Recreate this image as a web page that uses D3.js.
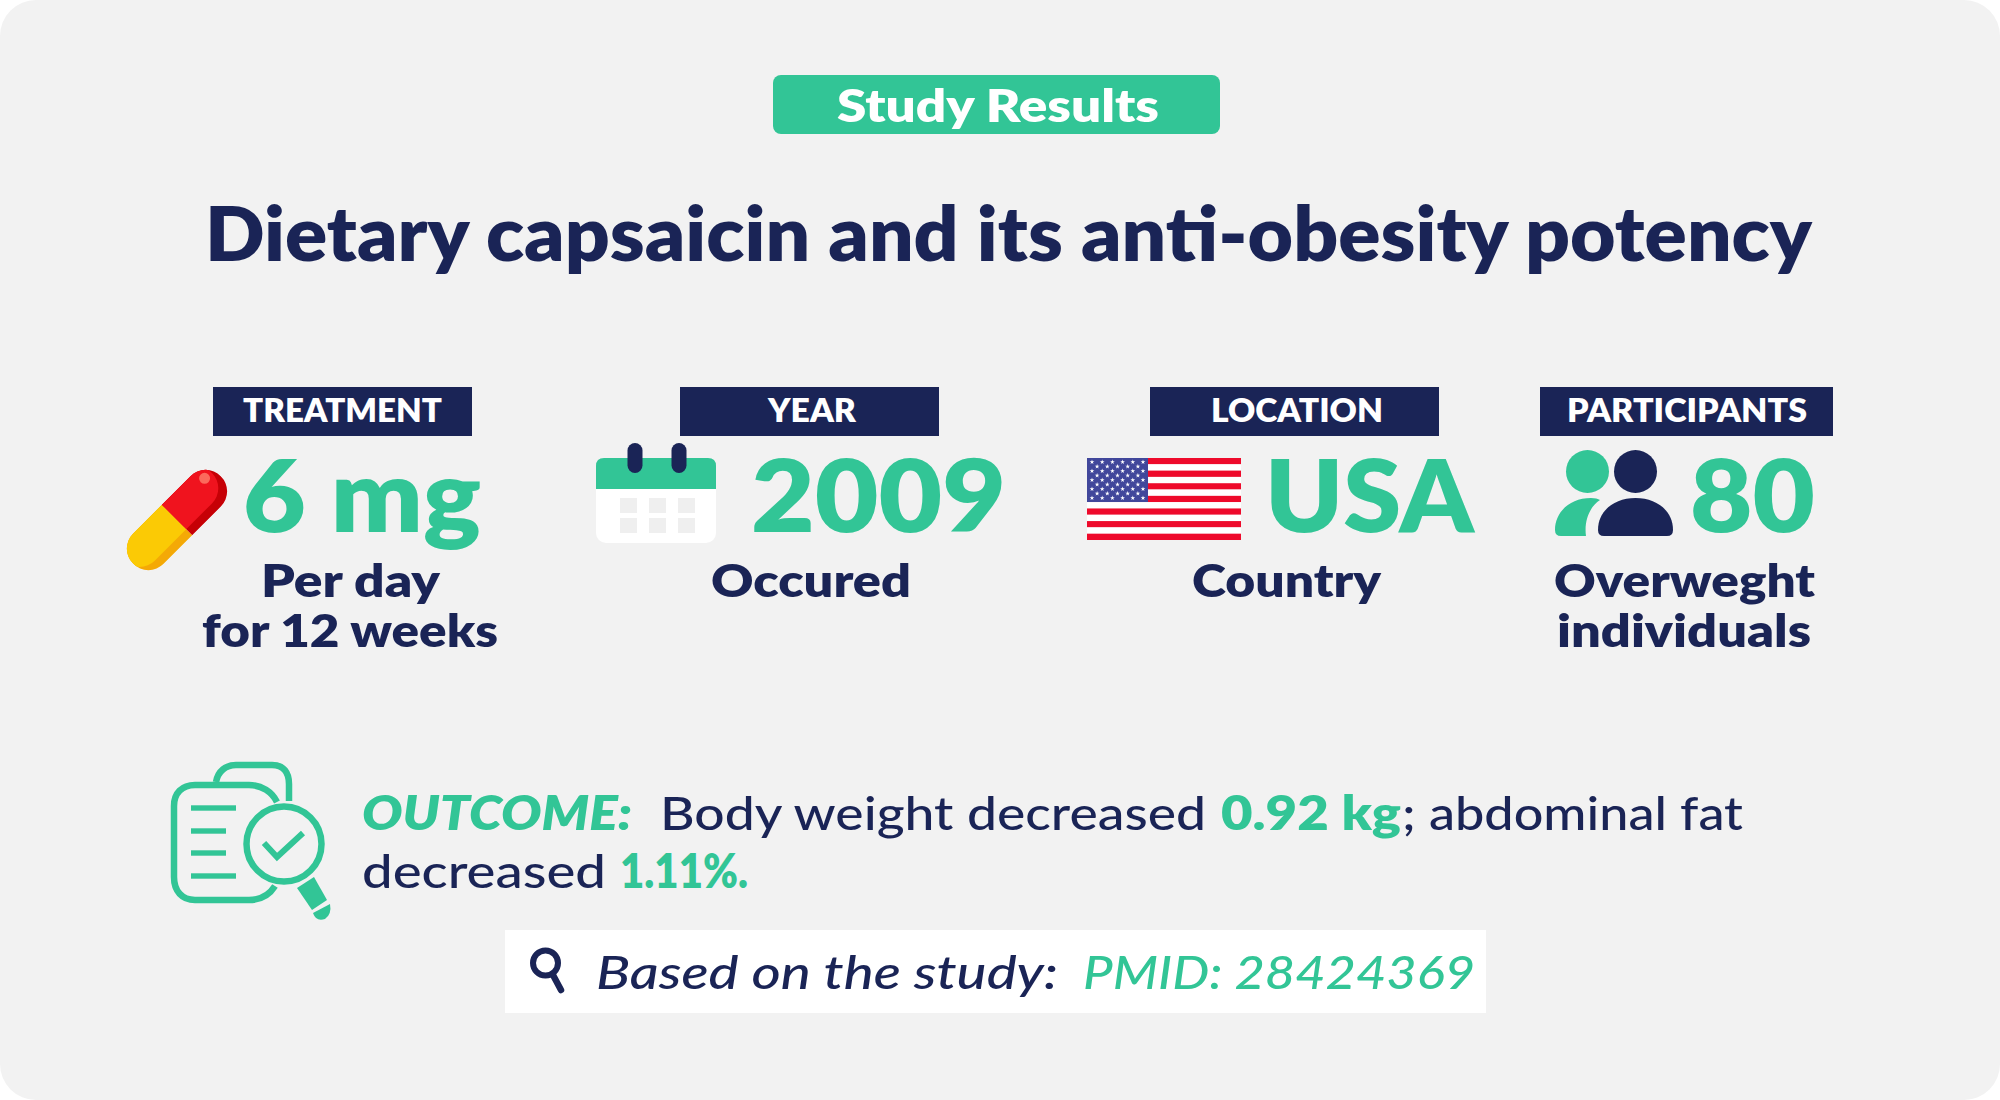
<!DOCTYPE html>
<html lang="en">
<head>
  <meta charset="UTF-8">
  <title>Study Results</title>
  <script src="https://d3js.org/d3.v7.min.js"></script>
  <style>
    body { margin: 0; background: #fff; }
    text { font-family: Lato, "Noto Sans", sans-serif; }
  </style>
</head>
<body>
  <svg id="card" width="2000" height="1100" viewBox="0 0 2000 1100"></svg>
  <script>
    // content
    const badgeText = "Study Results";
    const titleText = "Dietary capsaicin and its anti-obesity potency";
    const statLabels = ["TREATMENT", "YEAR", "LOCATION", "PARTICIPANTS"];
    const statValues = ["6 mg", "2009", "USA", "80"];
    const statNotes = [["Per day", "for 12 weeks"], ["Occured"], ["Country"], ["Overweght", "individuals"]];
    const outcomeHead = "OUTCOME:";
    const outcomeText = ["Body weight decreased", "0.92 kg", "; abdominal fat", "decreased", "1.11%."];
    const sourceText = ["Based on the study:", "PMID: 28424369"];
    const stripeIds = d3.range(13);
    const starRows = [6, 5, 6, 5, 6, 5, 6, 5, 6];

    const navy = "#1a2456", green = "#32c596", grey = "#f2f2f2";

    const svg = d3.select("#card");
    svg.append("rect").attr("width", 2000).attr("height", 1100).attr("rx", 36).attr("fill", grey);

    // text squeezed between two x positions
    function put(str, x0, x1, y, size, weight, color, italic) {
      return svg.append("text")
        .attr("x", x0).attr("y", y)
        .attr("font-size", size).attr("font-weight", weight)
        .attr("font-style", italic ? "italic" : "normal")
        .attr("fill", color)
        .attr("textLength", x1 - x0)
        .attr("lengthAdjust", "spacingAndGlyphs")
        .text(str);
    }

    // header
    svg.append("rect").attr("x", 773).attr("y", 75).attr("width", 447).attr("height", 59).attr("rx", 8).attr("fill", green);
    put(badgeText, 837, 1159, 122, 46, 800, "#fff");
    put(titleText, 205, 1812, 261, 75, 800, navy);

    // stat columns
    const labelBoxes = [[213, 472], [680, 939], [1150, 1439], [1540, 1833]];
    const labelSpans = [[243, 442], [768, 856], [1211, 1383], [1567, 1807]];
    const valueSpans = [[243, 481], [751, 1006], [1265, 1474], [1690, 1815]];
    const noteSpans = [[[261, 440], [202, 498]], [[711, 911]], [[1192, 1381]], [[1554, 1815], [1557, 1811]]];

    statLabels.forEach((label, i) => {
      const [a, b] = labelBoxes[i];
      svg.append("rect").attr("x", a).attr("y", 387).attr("width", b - a).attr("height", 49).attr("fill", navy);
      put(label, labelSpans[i][0], labelSpans[i][1], 422, 32, 800, "#fff");
      put(statValues[i], valueSpans[i][0], valueSpans[i][1], 532, 100, 800, green);
      statNotes[i].forEach((line, j) => {
        put(line, noteSpans[i][j][0], noteSpans[i][j][1], 597 + j * 50, 46, 800, navy);
      });
    });

    // pill icon
    const pill = svg.append("g").attr("transform", "translate(177,520) rotate(-45)");
    const defs = svg.append("defs");
    defs.append("clipPath").attr("id", "pillOuter").append("rect")
      .attr("x", -62).attr("y", -21.5).attr("width", 124).attr("height", 43).attr("rx", 21.5);
    defs.append("clipPath").attr("id", "pillInner").append("rect")
      .attr("x", -66).attr("y", -30).attr("width", 124).attr("height", 43).attr("rx", 21.5);
    const pillBase = pill.append("g").attr("clip-path", "url(#pillOuter)");
    pillBase.append("rect").attr("x", -62).attr("y", -22).attr("width", 62).attr("height", 44).attr("fill", "#f4a906");
    pillBase.append("rect").attr("x", 0).attr("y", -22).attr("width", 62).attr("height", 44).attr("fill", "#c60006");
    const pillTop = pillBase.append("g").attr("clip-path", "url(#pillInner)");
    pillTop.append("rect").attr("x", -62).attr("y", -22).attr("width", 62).attr("height", 44).attr("fill", "#fbca05");
    pillTop.append("rect").attr("x", 0).attr("y", -22).attr("width", 62).attr("height", 44).attr("fill", "#f0131e");
    pill.append("circle").attr("cx", 49).attr("cy", -10).attr("r", 5.5).attr("fill", "#fb6a5c");

    // calendar icon
    svg.append("rect").attr("x", 596).attr("y", 458).attr("width", 120).attr("height", 85).attr("rx", 10).attr("fill", "#fff");
    svg.append("path").attr("fill", green)
      .attr("d", "M596 489 V466 Q596 458 604 458 H708 Q716 458 716 466 V489 Z");
    [635, 679].forEach(x => {
      svg.append("rect").attr("x", x - 7.5).attr("y", 443).attr("width", 15).attr("height", 30).attr("rx", 7.5).attr("fill", navy);
    });
    [620, 649, 678].forEach(x => [498, 518].forEach(y => {
      svg.append("rect").attr("x", x).attr("y", y).attr("width", 17).attr("height", 15).attr("fill", "#efefef");
    }));

    // flag
    const stripeY = d3.scaleBand().domain(stripeIds).range([458, 540]);
    svg.selectAll(".stripe").data(stripeIds).join("rect")
      .attr("class", "stripe")
      .attr("x", 1087).attr("width", 154)
      .attr("y", d => stripeY(d)).attr("height", stripeY.bandwidth())
      .attr("fill", d => d % 2 ? "#fff" : "#ee0a2b");
    svg.append("rect").attr("x", 1087).attr("y", 458).attr("width", 61).attr("height", 44).attr("fill", "#41479b");
    const starY = d3.scaleLinear().domain([0, 8]).range([462, 498]);
    const starX = d3.scaleLinear().domain([0, 10]).range([1092, 1143]);
    const star = d3.symbol().type(d3.symbolStar).size(7);
    starRows.forEach((n, r) => {
      d3.range(n).forEach(k => {
        svg.append("path").attr("d", star()).attr("fill", "#fff")
          .attr("transform", `translate(${starX(k * 2 + (n === 5 ? 1 : 0))},${starY(r)})`);
      });
    });

    // people icon
    svg.append("circle").attr("cx", 1587.5).attr("cy", 471.5).attr("r", 21.5).attr("fill", green);
    svg.append("circle").attr("cx", 1635.5).attr("cy", 471.5).attr("r", 21.5).attr("fill", navy);
    svg.append("path").attr("fill", navy)
      .attr("d", "M1598 530 C1598 511 1614 498 1635.5 498 C1657 498 1673 511 1673 530 Q1673 536 1667 536 H1604 Q1598 536 1598 530 Z");
    svg.append("path").attr("fill", green)
      .attr("d", "M1600 500 C1589 507 1584 522 1586 536 H1561 Q1555 536 1555 530 C1555 512 1570 498 1591 498 Q1597 498 1600 500 Z");

    // outcome icon
    const ico = svg.append("g").attr("fill", "none").attr("stroke", green).attr("stroke-width", 6.5);
    ico.append("path").attr("d", "M277 802 C272 792 262 785 249 785 H195 C182 785 174 793 174 806 V877 C174 891 182 900 195 900 H249 C261 900 270 894 275 886");
    ico.append("path").attr("d", "M216 782 C218 771 226 765 236 765 H272 C284 765 289 773 289 784 V801");
    ico.append("circle").attr("cx", 284).attr("cy", 844).attr("r", 37.5);
    ico.append("path").attr("stroke-width", 6).attr("d", "M264 843 L277 857 L303 833");
    [[191, 236, 808], [191, 226, 831], [191, 226, 853], [191, 236, 876]].forEach(l => {
      svg.append("rect").attr("x", l[0]).attr("y", l[2] - 2.7).attr("width", l[1] - l[0]).attr("height", 5.4).attr("fill", green);
    });
    svg.append("path").attr("fill", green).attr("d", "M297 888 L314 877 L327 900 L312 910 Z");
    svg.append("path").attr("fill", green).attr("d", "M313 913 L330 904 Q332 914 325 919 Q316 922 313 913 Z");

    // outcome text
    put(outcomeHead, 362, 632, 830, 47, 800, green, true);
    put(outcomeText[0], 660, 1206, 830, 47, 500, navy);
    put(outcomeText[1], 1221, 1401, 830, 47, 800, green);
    put(outcomeText[2], 1402, 1743, 830, 47, 500, navy);
    put(outcomeText[3], 362, 606, 888, 47, 500, navy);
    put(outcomeText[4], 620, 748, 888, 47, 800, green);

    // source strip
    svg.append("rect").attr("x", 505).attr("y", 930).attr("width", 981).attr("height", 83).attr("fill", "#fff");
    svg.append("ellipse").attr("cx", 545.5).attr("cy", 963).attr("rx", 12.5).attr("ry", 12.5)
      .attr("fill", "none").attr("stroke", navy).attr("stroke-width", 6);
    svg.append("line").attr("x1", 553).attr("y1", 975).attr("x2", 561).attr("y2", 990)
      .attr("stroke", navy).attr("stroke-width", 6.5).attr("stroke-linecap", "round");
    put(sourceText[0], 596, 1058, 989, 47, 500, navy, true);
    put(sourceText[1], 1083, 1475, 989, 47, 500, green, true);
  </script>
</body>
</html>
